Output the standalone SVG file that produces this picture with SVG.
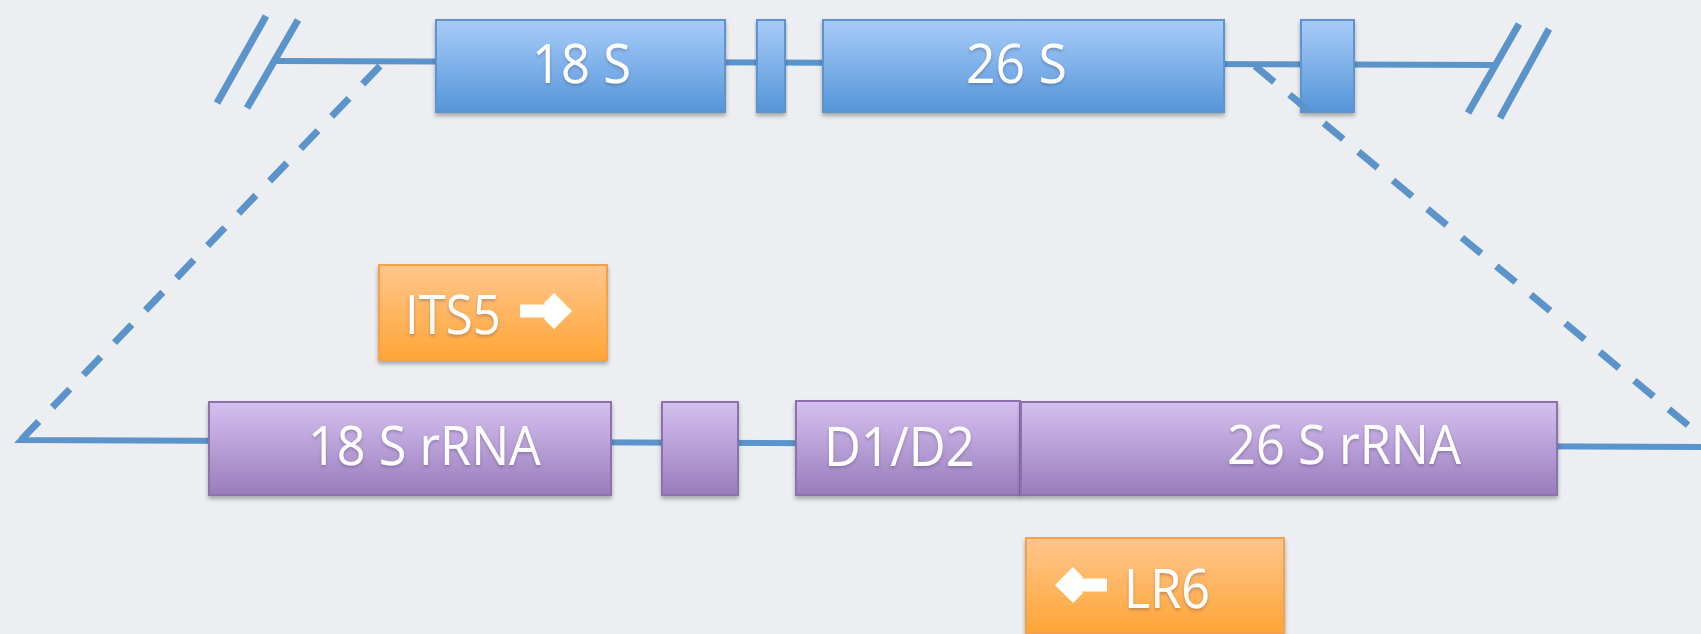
<svg xmlns="http://www.w3.org/2000/svg" width="1701" height="634" viewBox="0 0 1701 634">
  <style>
    .line { fill: none; stroke: #5b94ca; stroke-width: 6; }
    .dash { fill: none; stroke: #5b94ca; stroke-width: 7; stroke-dasharray: 25 19.8; }
    .slash { fill: none; stroke: #5b94ca; stroke-width: 7; }
    .blue { fill: url(#gBlue); stroke: #5f93cc; stroke-width: 2; filter: url(#shadow); }
    .purple { fill: url(#gPurple); stroke: #8d70ae; stroke-width: 2; filter: url(#shadow); }
    .orange { fill: url(#gOrange); stroke: #f4a14c; stroke-width: 2; filter: url(#shadow); }
    .label { font-family: "Open Sans", Lato, sans-serif; font-size: 55px; fill: #ffffff; filter: url(#tshadow); }
    .arrow { fill: #ffffff; }
  </style>
  <defs>
    <linearGradient id="gBlue" x1="0" y1="0" x2="0" y2="1">
      <stop offset="0" stop-color="#a8ccf9"/>
      <stop offset="1" stop-color="#5596d9"/>
    </linearGradient>
    <linearGradient id="gPurple" x1="0" y1="0" x2="0" y2="1">
      <stop offset="0" stop-color="#d4c1ef"/>
      <stop offset="1" stop-color="#9a7cbd"/>
    </linearGradient>
    <linearGradient id="gOrange" x1="0" y1="0" x2="0" y2="1">
      <stop offset="0" stop-color="#ffc68c"/>
      <stop offset="1" stop-color="#ffa537"/>
    </linearGradient>
    <filter id="shadow" x="-10%" y="-20%" width="120%" height="150%">
      <feDropShadow dx="0" dy="3" stdDeviation="2" flood-color="#000000" flood-opacity="0.3"/>
    </filter>
    <filter id="tshadow" x="-10%" y="-20%" width="120%" height="150%">
      <feDropShadow dx="0" dy="2" stdDeviation="1.5" flood-color="#3a2a55" flood-opacity="0.3"/>
    </filter>
    <!-- heavy right-pointing arrow used inside primer labels -->
    <path id="arrowRight" d="M0,11.5 H25.5 L24,10 L34,0 L52,18 L34,36 L24,26 L25.5,24.5 H0 Z"/>
  </defs>

  <rect width="1701" height="634" fill="#eceef1"/>

  <!-- chromosome backbones and break marks -->
  <g id="connectors">
    <path class="line" d="M277,61 L1497,65"/>
    <path class="slash" d="M217,103 L266,16"/>
    <path class="slash" d="M247,108 L298,20"/>
    <path class="slash" d="M1468,113 L1519,24"/>
    <path class="slash" d="M1500,118 L1549,29"/>
    <path class="line" d="M38,422 L21,440 L1701,447"/>
  </g>

  <!-- upstream repeat unit -->
  <g id="top-18S">
    <rect class="blue" x="436" y="20" width="289" height="92"/>
    <text class="label" x="532" y="83" textLength="99" lengthAdjust="spacingAndGlyphs">18 S</text>
  </g>
  <g id="top-58S">
    <rect class="blue" x="757" y="20" width="28" height="92"/>
  </g>
  <g id="top-26S">
    <rect class="blue" x="823" y="20" width="401" height="92"/>
    <text class="label" x="966" y="83" textLength="101" lengthAdjust="spacingAndGlyphs">26 S</text>
  </g>
  <g id="top-5S">
    <rect class="blue" x="1301" y="20" width="53" height="92"/>
  </g>

  <!-- zoom guides -->
  <g id="guides">
    <path class="dash" d="M380,66 L21,440"/>
    <path class="dash" d="M1255,66 L1712,445"/>
  </g>

  <!-- expanded rDNA region -->
  <g id="rrna-18S">
    <rect class="purple" x="209" y="402" width="402" height="93"/>
    <text class="label" x="308" y="465" textLength="233" lengthAdjust="spacingAndGlyphs">18 S rRNA</text>
  </g>
  <g id="rrna-58S">
    <rect class="purple" x="662" y="402" width="76" height="93"/>
  </g>
  <g id="rrna-D1D2">
    <rect class="purple" x="796" y="401" width="224" height="94"/>
    <text class="label" x="824" y="466" textLength="151" lengthAdjust="spacingAndGlyphs">D1/D2</text>
  </g>
  <g id="rrna-26S">
    <rect class="purple" x="1021" y="402" width="536" height="93"/>
    <text class="label" x="1227" y="464" textLength="234" lengthAdjust="spacingAndGlyphs">26 S rRNA</text>
  </g>

  <!-- primers -->
  <g id="primer-ITS5">
    <rect class="orange" x="379" y="265" width="228" height="95"/>
    <text class="label" x="405" y="334" textLength="96" lengthAdjust="spacingAndGlyphs">ITS5</text>
    <use href="#arrowRight" class="arrow" transform="translate(520,293)"/>
  </g>
  <g id="primer-LR6">
    <rect class="orange" x="1026" y="538" width="258" height="95"/>
    <use href="#arrowRight" class="arrow" transform="translate(1107,567) scale(-1,1)"/>
    <text class="label" x="1124" y="608" textLength="86" lengthAdjust="spacingAndGlyphs">LR6</text>
  </g>
</svg>
